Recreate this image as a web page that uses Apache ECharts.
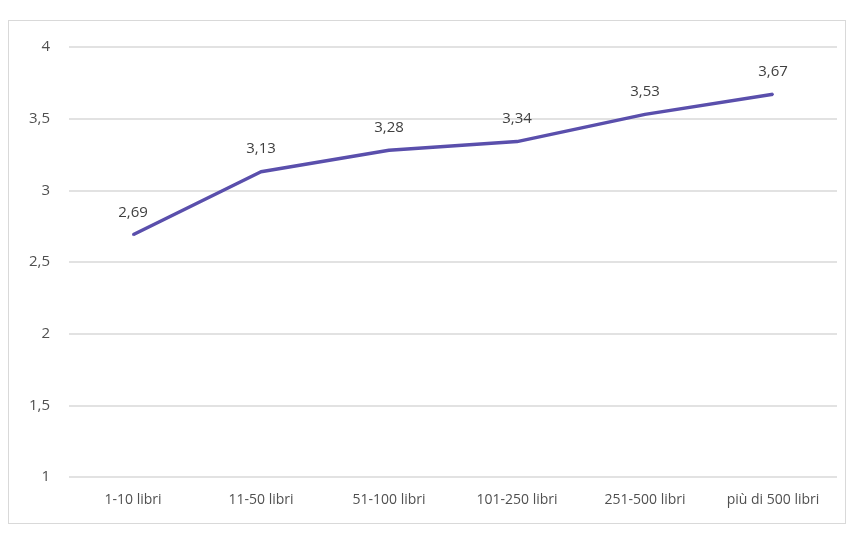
<!DOCTYPE html>
<html>
<head>
<meta charset="utf-8">
<script src="https://cdn.jsdelivr.net/npm/echarts@6/dist/echarts.min.js"></script>
<style>
  html, body { margin: 0; padding: 0; background: #ffffff; }
  #frame { position: absolute; left: 8px; top: 20px; width: 838px; height: 504px; border: 1px solid #d9d9d9; box-sizing: border-box; }
  #chart { position: absolute; left: 0; top: 0; width: 856px; height: 533px; }
</style>
</head>
<body>
<div id="frame"></div>
<div id="chart"></div>
<script>
// Book-ownership bands and the average score for each
const categories = ['1-10 libri', '11-50 libri', '51-100 libri', '101-250 libri', '251-500 libri', 'più di 500 libri'];
const scores = [2.69, 3.13, 3.28, 3.34, 3.53, 3.67];

const fmt = v => String(v).replace('.', ',');

const chart = echarts.init(document.getElementById('chart'), null, { renderer: 'canvas' });
chart.setOption({
  animation: false,
  textStyle: { fontFamily: 'Open Sans, Liberation Sans, sans-serif' },
  grid: { left: 69, right: 19, top: 47, bottom: 56 },
  xAxis: {
    type: 'category',
    data: categories,
    boundaryGap: true,
    axisLine: { show: false },
    axisTick: { show: false },
    axisLabel: { color: '#505050', fontSize: 14, margin: 16, interval: 0 }
  },
  yAxis: {
    type: 'value',
    min: 1,
    max: 4,
    interval: 0.5,
    axisLine: { show: false },
    axisTick: { show: false },
    axisLabel: { color: '#505050', fontSize: 15, margin: 19, formatter: v => fmt(v) },
    splitLine: { lineStyle: { color: '#d9d9d9', width: 1.5 } }
  },
  series: [{
    type: 'line',
    data: scores,
    symbol: 'circle',
    symbolSize: 2,
    showSymbol: true,
    itemStyle: { color: '#5a4fac', borderWidth: 0 },
    lineStyle: { color: '#5a4fac', width: 3.5 },
    label: {
      show: true,
      position: 'top',
      distance: 14,
      color: '#404040',
      fontSize: 15,
      formatter: p => fmt(p.value)
    }
  }]
});
</script>
</body>
</html>
